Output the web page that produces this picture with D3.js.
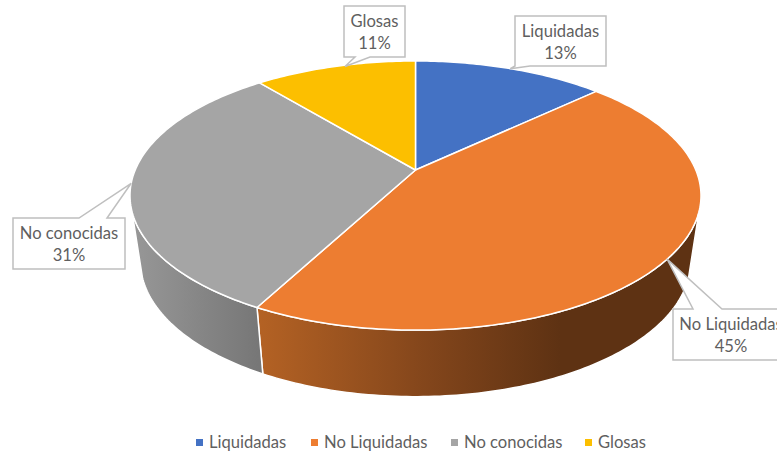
<!DOCTYPE html>
<html>
<head>
<meta charset="utf-8">
<script src="https://cdn.jsdelivr.net/npm/d3@7"></script>
<style>
  html, body { margin: 0; padding: 0; background: #fff; overflow: hidden; }
  text { font-family: Lato, "Open Sans", sans-serif; fill: #5f5f5f; }
</style>
</head>
<body>
<script>
var categories = ["Liquidadas", "No Liquidadas", "No conocidas", "Glosas"];
var values = [13, 44.8, 31.2, 11];
var colors = ["#4472C4", "#ED7D31", "#A5A5A5", "#FCBF00"];

var W = 777, H = 452;
var TAU = Math.PI * 2;
var CX = 415.5, CY = 170;
var PERSP = 0.19;     // foreshortening of the disc
var FRONT = [107.5 / 360 * TAU, 252.5 / 360 * TAU]; // part of the rim where the wall shows

// label boxes, same order as categories: left, top, right, bottom, pointer base on the box edge
var BOXES = [
  {x0: 515, y0: 16, x1: 606, y1: 66, base: [515, 530], edge: "bottom", tipShift: 0},
  {x0: 673, y0: 309, x1: 789, y1: 360, base: [693, 722], edge: "top", tipShift: 0},
  {x0: 13, y0: 218, x1: 125, y1: 269, base: [79, 107], edge: "top", tipShift: 0},
  {x0: 344, y0: 6, x1: 405, y1: 57, base: [355, 370], edge: "bottom", tipShift: 10}
];
var LEGEND_X = [196, 311, 451, 585];

var svg = d3.select("body").append("svg")
  .attr("width", W)
  .attr("height", H);

var defs = svg.append("defs");

function wallGradient(id, stops) {
  var g = defs.append("linearGradient")
    .attr("id", id)
    .attr("gradientUnits", "userSpaceOnUse")
    .attr("x1", 130).attr("x2", 700)
    .attr("y1", 0).attr("y2", 0);
  stops.forEach(function(s) {
    g.append("stop").attr("offset", (s[0] - 130) / 570).attr("stop-color", s[1]);
  });
}
wallGradient("wall-orange", [[258, "#B46224"], [430, "#82451B"], [560, "#5E3213"], [700, "#5E3213"]]);
wallGradient("wall-gray", [[130, "#989898"], [258, "#777777"]]);

// project a pie angle (0 = top, clockwise) onto the upper or lower rim
function topRim(a) {
  var u = Math.sin(a), v = Math.cos(a), w = PERSP * v + 1;
  return [CX + 280.3 * u / w, (CY - 97.4 * v) / w];
}
function bottomRim(a) {
  var u = Math.sin(a), v = Math.cos(a), w = PERSP * v + 1;
  return [CX + 270 * u / w, (235.8 - 85.5 * v) / w];
}

function sample(fn, a0, a1) {
  var n = Math.max(2, Math.ceil(Math.abs(a1 - a0) * 60));
  return d3.range(n + 1).map(function(i) {
    return fn(a0 + (a1 - a0) * i / n);
  });
}

var line = d3.line();
var slices = d3.pie().sort(null)(values);

// side walls
var wallFill = [null, "url(#wall-orange)", "url(#wall-gray)", null];
svg.append("g").selectAll("path")
  .data(slices.filter(function(d) {
    return d.endAngle > FRONT[0] && d.startAngle < FRONT[1];
  }))
  .enter().append("path")
  .attr("d", function(d) {
    var a0 = Math.max(d.startAngle, FRONT[0]);
    var a1 = Math.min(d.endAngle, FRONT[1]);
    return line(sample(topRim, a0, a1).concat(sample(bottomRim, a1, a0))) + "Z";
  })
  .attr("fill", function(d) { return wallFill[d.index]; })
  .attr("stroke", "#fff")
  .attr("stroke-width", 1.5);

// top of the pie
svg.append("g").selectAll("path")
  .data(slices)
  .enter().append("path")
  .attr("d", function(d) {
    return line([[CX, CY]].concat(sample(topRim, d.startAngle, d.endAngle))) + "Z";
  })
  .attr("fill", function(d) { return colors[d.index]; })
  .attr("stroke", "#fff")
  .attr("stroke-width", 1.5)
  .attr("stroke-linejoin", "round");

// callouts
var callouts = svg.append("g").selectAll("g")
  .data(slices)
  .enter().append("g");

callouts.append("path")
  .attr("d", function(d) {
    var b = BOXES[d.index];
    var tip = topRim((d.startAngle + d.endAngle) / 2);
    tip[0] += b.tipShift;
    var pts;
    if (b.edge === "bottom") {
      pts = [[b.x0, b.y0], [b.x1, b.y0], [b.x1, b.y1], [b.base[1], b.y1], tip, [b.base[0], b.y1], [b.x0, b.y1]];
    } else {
      pts = [[b.x0, b.y0], [b.base[0], b.y0], tip, [b.base[1], b.y0], [b.x1, b.y0], [b.x1, b.y1], [b.x0, b.y1]];
    }
    return line(pts) + "Z";
  })
  .attr("fill", "#fff")
  .attr("stroke", "#BFBFBF")
  .attr("stroke-width", 1.5);

callouts.each(function(d) {
  var b = BOXES[d.index];
  var t = d3.select(this).append("text")
    .attr("text-anchor", "middle")
    .attr("font-size", 16.6);
  var mx = (b.x0 + b.x1) / 2;
  t.append("tspan").attr("x", mx).attr("y", b.y0 + 20.5).text(categories[d.index]);
  t.append("tspan").attr("x", mx).attr("y", b.y0 + 42.5).text(Math.round(values[d.index]) + "%");
});

// legend
var legend = svg.append("g").selectAll("g")
  .data(categories)
  .enter().append("g")
  .attr("transform", function(d, i) { return "translate(" + LEGEND_X[i] + ",0)"; });

legend.append("rect")
  .attr("y", 439)
  .attr("width", 7)
  .attr("height", 7)
  .attr("fill", function(d, i) { return colors[i]; });

legend.append("text")
  .attr("x", 13)
  .attr("y", 448)
  .attr("font-size", 16.6)
  .text(function(d) { return d; });
</script>
</body>
</html>
